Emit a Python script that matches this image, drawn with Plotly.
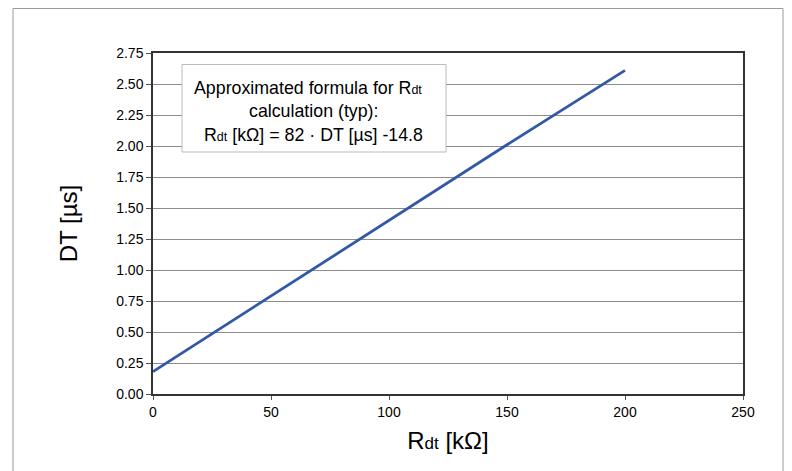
import plotly.graph_objects as go

r_dt = [0, 50, 100, 150, 200]
dt_us = [0.18, 0.79, 1.40, 2.01, 2.61]
x_ticks = [0, 50, 100, 150, 200, 250]
y_ticks = [0.00, 0.25, 0.50, 0.75, 1.00, 1.25, 1.50, 1.75, 2.00, 2.25, 2.50, 2.75]
note_lines = [
    "Approximated formula for R<span style='font-size:12.5px'>dt</span>",
    "calculation (typ):",
    "R<span style='font-size:12.5px'>dt</span> [kΩ] = 82 · DT [µs] -14.8",
]

FONT = "Liberation Sans, Arial, sans-serif"

fig = go.Figure()
fig.add_trace(go.Scatter(x=r_dt, y=dt_us, mode="lines",
                         line=dict(color="#3358A8", width=2.8), showlegend=False))

# page body has an 8px margin, so the figure is shrunk by 8px
OFF = 8
W, H = 792 - OFF, 471 - OFF
L, R, T, B = 145, 49, 45, 77
pw, ph = W - L - R, H - T - B

def px_x(p):
    return (p - OFF - L) / pw

def px_y(p):
    return (H - B - (p - OFF)) / ph

fig.update_layout(
    width=W, height=H,
    margin=dict(l=L, r=R, t=T, b=B, autoexpand=False),
    paper_bgcolor="white", plot_bgcolor="white",
    font=dict(family=FONT, color="#000000", size=14),
    xaxis=dict(range=[0, 250], tickvals=x_ticks, ticks="outside", ticklen=4,
               tickcolor="#555555", showgrid=False, showline=True, linecolor="#333333",
               linewidth=1.5, mirror=True, zeroline=False,
               tickfont=dict(size=14), automargin=False,
               title=dict(text="R<span style='font-size:17px'>dt</span> [kΩ]",
                          font=dict(size=24), standoff=14)),
    yaxis=dict(range=[0, 2.75], tickvals=y_ticks, tickformat=".2f", ticks="outside",
               ticklen=5, tickcolor="#555555", showgrid=True, gridcolor="#8c8c8c",
               gridwidth=1, showline=True, linecolor="#333333", linewidth=1.5,
               mirror=True, zeroline=False, tickfont=dict(size=14), automargin=False,
               title=dict(text="DT [µs]", font=dict(size=24), standoff=32)),
)

# outer frame
fig.add_shape(type="rect", xref="paper", yref="paper",
              x0=px_x(13), x1=px_x(783), y0=px_y(480), y1=px_y(8.5),
              line=dict(color="#9a9a9a", width=1), fillcolor="rgba(0,0,0,0)", layer="below")

# note box
fig.add_shape(type="rect", xref="paper", yref="paper",
              x0=px_x(182), x1=px_x(446), y0=px_y(152), y1=px_y(64.5),
              line=dict(color="#bbbbbb", width=1), fillcolor="white", layer="above")

for txt, cx, cy in zip(note_lines, [308, 313, 313], [87.5, 111, 134.5]):
    fig.add_annotation(
        xref="paper", yref="paper",
        x=px_x(cx), y=px_y(cy), xanchor="center", yanchor="middle",
        text=txt, showarrow=False, align="center",
        font=dict(size=17.8, family=FONT, color="#000000"),
    )

fig.write_html("out.html")
